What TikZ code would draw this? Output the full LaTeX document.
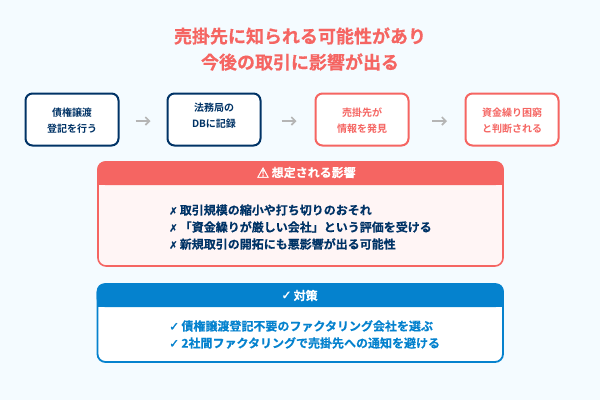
\documentclass[tikz,border=0pt]{standalone}
\usepackage{fontspec}
\setmainfont{Noto Sans CJK JP}[BoldFont={Noto Sans CJK JP Bold}]
\newfontfamily\symf{DejaVu Sans}
\newfontfamily\symb{DejaVu Sans}[FakeBold=1.5]
\newfontfamily\heavy{Noto Sans CJK JP Bold}[FakeBold=0.4]
\newfontfamily\medheavy{Noto Sans CJK JP Bold}[FakeBold=0.15]
\usetikzlibrary{arrows.meta,positioning}
\definecolor{bgc}{HTML}{F4FBFF}
\definecolor{navy}{HTML}{003366}
\definecolor{redc}{HTML}{F56562}
\definecolor{bluec}{HTML}{0582CE}
\definecolor{pinkc}{HTML}{FFF5F5}
\definecolor{grayc}{HTML}{B5B5B5}
\tikzset{
  x=1pt,y=-1pt,
  flow/.style={draw,fill=white,line width=2pt,rounded corners=7pt,minimum width=93pt,minimum height=52pt,inner sep=0pt,anchor=center},
  navybox/.style={flow,draw=navy},
  redbox/.style={flow,draw=redc},
  lab/.style={font=\fontsize{10}{10}\selectfont\bfseries,inner sep=0pt,anchor=center},
  ttl/.style={font=\fontsize{18}{18}\selectfont\heavy,text=redc,inner sep=0pt,anchor=center},
  hdr/.style={font=\fontsize{12}{12}\selectfont\medheavy,text=white,inner sep=0pt},
  item/.style={font=\fontsize{12}{12}\selectfont\medheavy,inner sep=0pt,anchor=west},
  flowarrow/.style={draw=grayc,line width=1.6pt,-{Straight Barb[length=4pt,width=8pt]}},
}
\newcommand{\xm}{{\symb\fontsize{10}{10}\selectfont ✗}\hspace{2.2pt}}
\newcommand{\ck}{{\symb\fontsize{12}{12}\selectfont ✓}\hspace{2.2pt}}
\begin{document}
\begin{tikzpicture}
\useasboundingbox (0,0) rectangle (600,400);
\fill[bgc] (0,0) rectangle (600,400);
\node[ttl] (t1) at (300,36) {売掛先に知られる可能性があり};
\node[ttl] (t2) at (300,62) {今後の取引に影響が出る};
\node[navybox] (b1) at (72,119.5) {};
\node[navybox] (b2) at (214,119.5) {};
\node[redbox] (b3) at (362,119.5) {};
\node[redbox] (b4) at (512,119.5) {};
\node[lab,text=navy] (b1a) at (72,112.5) {債権譲渡};
\node[lab,text=navy] (b1b) at (72,128.5) {登記を行う};
\node[lab,text=navy] (b2a) at (214,107.5) {法務局の};
\node[lab,text=navy] (b2b) at (214,123.5) {DBに記録};
\node[lab,text=redc] (b3a) at (362,112.5) {売掛先が};
\node[lab,text=redc] (b3b) at (362,128.5) {情報を発見};
\node[lab,text=redc] (b4a) at (512,112.5) {資金繰り困窮};
\node[lab,text=redc] (b4b) at (512,128.5) {と判断される};
\draw[flowarrow] (b1) ++(63.5,1.5) -- ++(15,0);
\draw[flowarrow] (b2) ++(67.5,1.5) -- ++(15,0);
\draw[flowarrow] (b3) ++(70,1.5) -- ++(15,0);
% impact panel
\draw[draw=redc,fill=pinkc,line width=1.6pt,rounded corners=8pt] (98,162) rectangle (503,266);
\fill[redc,rounded corners=8pt] (97.2,161.2) -- (503.8,161.2) -- (503.8,185) -- (97.2,185) -- cycle;
\fill[redc] (97.2,175) rectangle (503.8,185);
\node[hdr,anchor=center] (w1) at (263,172.5) {{\symb\fontsize{14}{14}\selectfont ⚠}};
\node[hdr,anchor=west] (h1) at (271.5,172.5) {想定される影響};
\node[item,text=navy] (i1) at (169,210) {\xm 取引規模の縮小や打ち切りのおそれ};
\node[item,text=navy] (i2) at (169,227) {\xm 「資金繰りが厳しい会社」という評価を受ける};
\node[item,text=navy] (i3) at (169,244) {\xm 新規取引の開拓にも悪影響が出る可能性};
% counter panel
\draw[draw=bluec,fill=white,line width=1.8pt,rounded corners=8pt] (97.5,285) rectangle (503,362);
\fill[bluec,rounded corners=8pt] (96.7,283.2) -- (503.8,283.2) -- (503.8,307) -- (96.7,307) -- cycle;
\fill[bluec] (96.7,297) rectangle (503.8,307);
\node[hdr,anchor=center] (w2) at (286.5,295.5) {{\symb\fontsize{12}{12}\selectfont ✓}};
\node[hdr,anchor=west] (h2) at (293.5,295.5) {対策};
\node[item,text=bluec] (s1) at (169,326) {\ck 債権譲渡登記不要のファクタリング会社を選ぶ};
\node[item,text=bluec] (s2) at (169,343) {\ck 2社間ファクタリングで売掛先への通知を避ける};
\end{tikzpicture}
\end{document}
